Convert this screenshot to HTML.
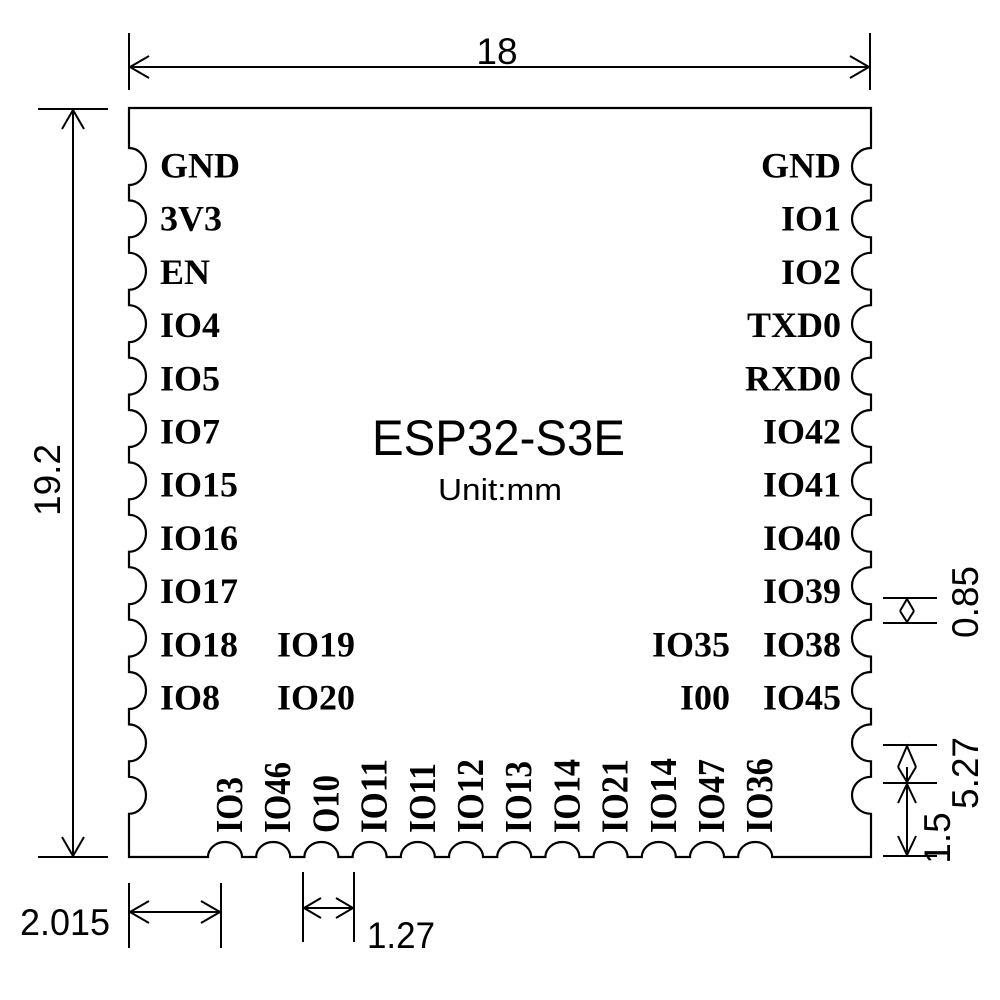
<!DOCTYPE html>
<html>
<head>
<meta charset="utf-8">
<style>
html,body{margin:0;padding:0;background:#fff;}
svg{display:block;}
.pin{font-family:"Liberation Serif",serif;font-weight:bold;font-size:36px;fill:#000;}
.bot{font-family:"Liberation Serif",serif;font-weight:bold;font-size:38px;fill:#000;}
.dim{font-family:"Liberation Sans",sans-serif;font-size:37px;fill:#000;}
</style>
</head>
<body>
<svg width="1000" height="1000" viewBox="0 0 1000 1000" xmlns="http://www.w3.org/2000/svg">
<rect width="1000" height="1000" fill="#fff"/>

<!-- Module outline -->
<path fill="none" stroke="#000" stroke-width="2.2" d="
M129,108
V148 a17,18.5 0 0 1 0,37
V200.4 a17,18.5 0 0 1 0,37
V252.8 a17,18.5 0 0 1 0,37
V305.2 a17,18.5 0 0 1 0,37
V357.6 a17,18.5 0 0 1 0,37
V410 a17,18.5 0 0 1 0,37
V462.4 a17,18.5 0 0 1 0,37
V514.8 a17,18.5 0 0 1 0,37
V567.2 a17,18.5 0 0 1 0,37
V619.6 a17,18.5 0 0 1 0,37
V672 a17,18.5 0 0 1 0,37
V724.4 a17,18.5 0 0 1 0,37
V776.8 a17,18.5 0 0 1 0,37
V857
H208 a17,15 0 0 1 34,0
H256.2 a17,15 0 0 1 34,0
H304.4 a17,15 0 0 1 34,0
H352.6 a17,15 0 0 1 34,0
H400.8 a17,15 0 0 1 34,0
H449 a17,15 0 0 1 34,0
H497.2 a17,15 0 0 1 34,0
H545.4 a17,15 0 0 1 34,0
H593.6 a17,15 0 0 1 34,0
H641.8 a17,15 0 0 1 34,0
H690 a17,15 0 0 1 34,0
H738.2 a17,15 0 0 1 34,0
H871
V813.8 a19,18.5 0 0 1 0,-37
V761.4 a19,18.5 0 0 1 0,-37
V709 a19,18.5 0 0 1 0,-37
V656.6 a19,18.5 0 0 1 0,-37
V604.2 a19,18.5 0 0 1 0,-37
V551.8 a19,18.5 0 0 1 0,-37
V499.4 a19,18.5 0 0 1 0,-37
V447 a19,18.5 0 0 1 0,-37
V394.6 a19,18.5 0 0 1 0,-37
V342.2 a19,18.5 0 0 1 0,-37
V289.8 a19,18.5 0 0 1 0,-37
V237.4 a19,18.5 0 0 1 0,-37
V185 a19,18.5 0 0 1 0,-37
V108 Z"/>

<g stroke="#000" stroke-width="2" fill="none">
  <!-- Top dimension 18 -->
  <line x1="129" y1="33" x2="129" y2="90"/>
  <line x1="870" y1="33" x2="870" y2="90"/>
  <line x1="129" y1="67" x2="870" y2="67"/>
  <polyline points="149,56 130,67 149,78"/>
  <polyline points="850,56 869,67 850,78"/>

  <!-- Left dimension 19.2 -->
  <line x1="38" y1="109" x2="108" y2="109"/>
  <line x1="38" y1="857" x2="108" y2="857"/>
  <line x1="73" y1="109" x2="73" y2="857"/>
  <polyline points="62,129 73,110 84,129"/>
  <polyline points="62,837 73,856 84,837"/>

  <!-- Bottom dimension 2.015 -->
  <line x1="129" y1="883" x2="129" y2="948"/>
  <line x1="221" y1="883" x2="221" y2="948"/>
  <line x1="129" y1="912" x2="221" y2="912"/>
  <polyline points="149,901 130,912 149,923"/>
  <polyline points="201,901 220,912 201,923"/>

  <!-- Bottom dimension 1.27 -->
  <line x1="303" y1="872" x2="303" y2="942"/>
  <line x1="354" y1="872" x2="354" y2="942"/>
  <line x1="303" y1="908" x2="354" y2="908"/>
  <polyline points="321,898 304,908 321,918"/>
  <polyline points="336,898 353,908 336,918"/>

  <!-- Right dimension 0.85 -->
  <line x1="883" y1="598" x2="937" y2="598"/>
  <line x1="883" y1="623" x2="937" y2="623"/>
  <polyline points="900,611 907,599 914,611"/>
  <polyline points="900,611 907,622 914,611"/>

  <!-- Right dimension 5.27 / 1.5 -->
  <line x1="883" y1="745" x2="937" y2="745"/>
  <line x1="883" y1="783" x2="937" y2="783"/>
  <line x1="883" y1="856" x2="937" y2="856"/>
  <polyline points="898,767 907,746 916,767"/>
  <polyline points="898,767 907,782 916,767"/>
  <line x1="907" y1="767" x2="907" y2="856"/>
  <polyline points="898,803 907,784 916,803"/>
  <polyline points="898,836 907,855 916,836"/>
</g>

<!-- Dimension texts -->
<text class="dim" x="497" y="64" text-anchor="middle">18</text>
<text class="dim" transform="translate(60,480) rotate(-90)" text-anchor="middle">19.2</text>
<text class="dim" x="20" y="935" textLength="90" lengthAdjust="spacingAndGlyphs">2.015</text>
<text class="dim" x="367" y="948" textLength="68" lengthAdjust="spacingAndGlyphs">1.27</text>
<text class="dim" transform="translate(978,602) rotate(-90)" text-anchor="middle">0.85</text>
<text class="dim" transform="translate(978,773) rotate(-90)" text-anchor="middle">5.27</text>
<text class="dim" transform="translate(950,838) rotate(-90)" text-anchor="middle">1.5</text>

<!-- Center title -->
<text x="372" y="455" font-family="Liberation Sans, sans-serif" font-size="50" textLength="253" lengthAdjust="spacingAndGlyphs" fill="#000">ESP32-S3E</text>
<text x="438" y="500" font-family="Liberation Sans, sans-serif" font-size="31" textLength="124" lengthAdjust="spacingAndGlyphs" fill="#000">Unit:mm</text>

<!-- Left pin labels -->
<g class="pin">
  <text x="160" y="177.5">GND</text>
  <text x="160" y="230.7">3V3</text>
  <text x="160" y="283.9">EN</text>
  <text x="160" y="337.1">IO4</text>
  <text x="160" y="390.3">IO5</text>
  <text x="160" y="443.5">IO7</text>
  <text x="160" y="496.7">IO15</text>
  <text x="160" y="549.9">IO16</text>
  <text x="160" y="603.1">IO17</text>
  <text x="160" y="656.3">IO18</text>
  <text x="160" y="709.5">IO8</text>
  <text x="277" y="656.3">IO19</text>
  <text x="277" y="709.5">IO20</text>
</g>

<!-- Right pin labels -->
<g class="pin" text-anchor="end">
  <text x="841" y="177.5">GND</text>
  <text x="841" y="230.7">IO1</text>
  <text x="841" y="283.9">IO2</text>
  <text x="841" y="337.1">TXD0</text>
  <text x="841" y="390.3">RXD0</text>
  <text x="841" y="443.5">IO42</text>
  <text x="841" y="496.7">IO41</text>
  <text x="841" y="549.9">IO40</text>
  <text x="841" y="603.1">IO39</text>
  <text x="841" y="656.3">IO38</text>
  <text x="841" y="709.5">IO45</text>
  <text x="730" y="656.3">IO35</text>
  <text x="730" y="709.5">I00</text>
</g>

<!-- Bottom pin labels (rotated) -->
<g class="bot">
  <text transform="translate(242,833) rotate(-90)" textLength="56" lengthAdjust="spacingAndGlyphs">IO3</text>
  <text transform="translate(290.2,833) rotate(-90)" textLength="71" lengthAdjust="spacingAndGlyphs">IO46</text>
  <text transform="translate(338.4,833) rotate(-90)" textLength="58" lengthAdjust="spacingAndGlyphs">O10</text>
  <text transform="translate(386.6,833) rotate(-90)" textLength="74" lengthAdjust="spacingAndGlyphs">IO11</text>
  <text transform="translate(434.8,833) rotate(-90)" textLength="70" lengthAdjust="spacingAndGlyphs">IO11</text>
  <text transform="translate(483,833) rotate(-90)" textLength="74" lengthAdjust="spacingAndGlyphs">IO12</text>
  <text transform="translate(531.2,833) rotate(-90)" textLength="72" lengthAdjust="spacingAndGlyphs">IO13</text>
  <text transform="translate(579.4,833) rotate(-90)" textLength="74" lengthAdjust="spacingAndGlyphs">IO14</text>
  <text transform="translate(627.6,833) rotate(-90)" textLength="74" lengthAdjust="spacingAndGlyphs">IO21</text>
  <text transform="translate(675.8,833) rotate(-90)" textLength="75" lengthAdjust="spacingAndGlyphs">IO14</text>
  <text transform="translate(724,833) rotate(-90)" textLength="74" lengthAdjust="spacingAndGlyphs">IO47</text>
  <text transform="translate(772.2,833) rotate(-90)" textLength="75" lengthAdjust="spacingAndGlyphs">IO36</text>
</g>
</svg>
</body>
</html>
